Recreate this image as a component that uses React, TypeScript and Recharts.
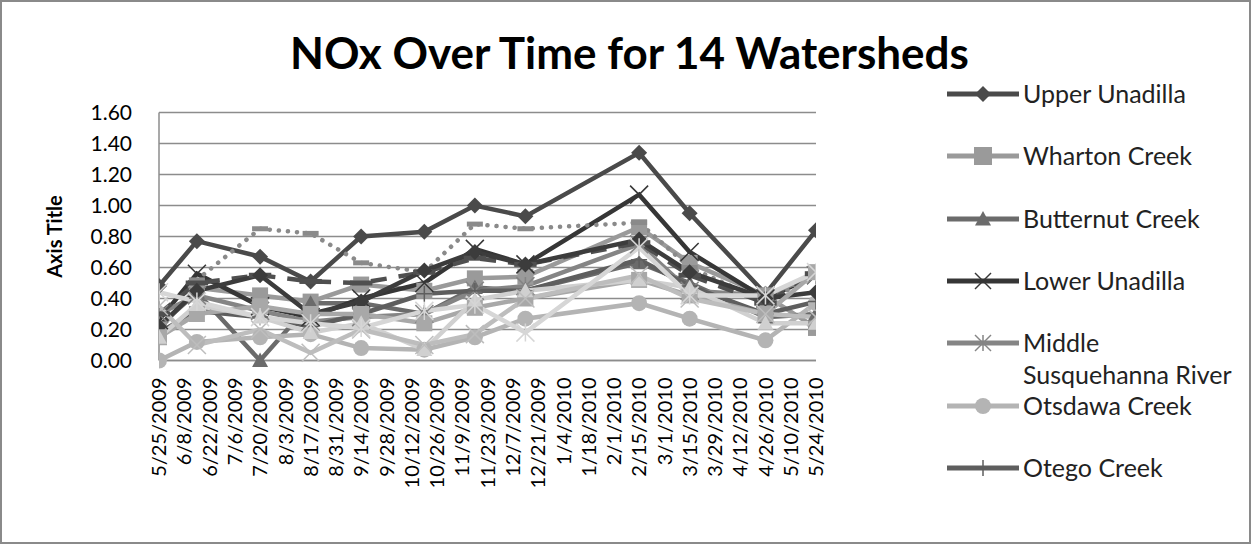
import React from 'react';
import { LineChart, Line, XAxis, YAxis, CartesianGrid } from 'recharts';

// sampling dates and tick labels (date axis, 14 day steps)
const sampleDates = [
  '5/25/2009', '6/15/2009', '7/20/2009', '8/17/2009', '9/14/2009', '10/19/2009',
  '11/16/2009', '12/14/2009', '2/15/2010', '3/15/2010', '4/26/2010', '5/24/2010',
];

const tickLabels = [
  '5/25/2009', '6/8/2009', '6/22/2009', '7/6/2009', '7/20/2009', '8/3/2009', '8/17/2009',
  '8/31/2009', '9/14/2009', '9/28/2009', '10/12/2009', '10/26/2009', '11/9/2009',
  '11/23/2009', '12/7/2009', '12/21/2009', '1/4/2010', '1/18/2010', '2/1/2010',
  '2/15/2010', '3/1/2010', '3/15/2010', '3/29/2010', '4/12/2010', '4/26/2010',
  '5/10/2010', '5/24/2010',
];

const yTicks = [0, 0.2, 0.4, 0.6, 0.8, 1.0, 1.2, 1.4, 1.6];

const upperUnadilla = [0.48, 0.77, 0.67, 0.51, 0.80, 0.83, 1.00, 0.93, 1.34, 0.95, 0.43, 0.84];
const whartonCreek = [0.20, 0.47, 0.42, 0.38, 0.49, 0.45, 0.53, 0.54, 0.86, 0.63, 0.42, 0.21];
const butternutCreek = [0.22, 0.44, 0.00, 0.37, 0.37, 0.30, 0.47, 0.45, 0.63, 0.50, 0.28, 0.30];
const lowerUnadilla = [0.26, 0.56, 0.35, 0.28, 0.40, 0.50, 0.72, 0.62, 1.07, 0.70, 0.40, 0.55];
const middleSusquehanna = [0.30, 0.42, 0.32, 0.25, 0.28, 0.30, 0.45, 0.48, 0.75, 0.45, 0.42, 0.55];
const otsdawaCreek = [0.00, 0.12, 0.15, 0.17, 0.08, 0.07, 0.15, 0.27, 0.37, 0.27, 0.13, 0.37];
const otegoCreek = [0.18, 0.32, 0.28, 0.22, 0.30, 0.43, 0.45, 0.45, 0.65, 0.48, 0.30, 0.38];
const watershed8 = [null, 0.52, 0.85, 0.82, 0.63, 0.57, 0.88, 0.85, 0.89, 0.60, 0.38, 0.55];
const watershed9 = [0.30, 0.50, 0.55, 0.51, 0.50, 0.57, 0.66, 0.62, 0.76, 0.55, 0.37, 0.56];
const watershed10 = [0.22, 0.45, 0.55, 0.30, 0.38, 0.58, 0.70, 0.62, 0.78, 0.57, 0.40, 0.44];
const watershed11 = [0.15, 0.30, 0.35, 0.30, 0.30, 0.24, 0.34, 0.40, 0.52, 0.42, 0.30, 0.57];
const watershed12 = [0.15, 0.36, 0.28, 0.18, 0.24, 0.07, 0.39, 0.45, 0.52, 0.47, 0.24, 0.24];
const watershed13 = [0.35, 0.10, 0.20, 0.05, 0.20, 0.10, 0.17, 0.40, 0.55, 0.40, 0.30, 0.28];
const watershed14 = [0.44, 0.38, 0.28, 0.24, 0.21, 0.32, 0.36, 0.18, 0.73, 0.42, 0.42, 0.57];

type Shape = 'diamond' | 'square' | 'triangle' | 'x' | 'star' | 'circle' | 'plus' | 'dash' | 'longdash';

interface SeriesDef {
  key: string;
  name: string;
  values: (number | null)[];
  color: string;
  shape: Shape;
  dash?: string;
  legend?: boolean;
}

const series: SeriesDef[] = [
  { key: 's1', name: 'Upper Unadilla', values: upperUnadilla, color: '#4a4a4a', shape: 'diamond', legend: true },
  { key: 's2', name: 'Wharton Creek', values: whartonCreek, color: '#9a9a9a', shape: 'square', legend: true },
  { key: 's3', name: 'Butternut Creek', values: butternutCreek, color: '#6b6b6b', shape: 'triangle', legend: true },
  { key: 's4', name: 'Lower Unadilla', values: lowerUnadilla, color: '#363636', shape: 'x', legend: true },
  { key: 's5', name: 'Middle Susquehanna River', values: middleSusquehanna, color: '#858585', shape: 'star', legend: true },
  { key: 's6', name: 'Otsdawa Creek', values: otsdawaCreek, color: '#b4b4b4', shape: 'circle', legend: true },
  { key: 's7', name: 'Otego Creek', values: otegoCreek, color: '#5e5e5e', shape: 'plus', legend: true },
  { key: 's8', name: 'Watershed 8', values: watershed8, color: '#8a8a8a', shape: 'dash', dash: '0.1 9' },
  { key: 's9', name: 'Watershed 9', values: watershed9, color: '#4f4f4f', shape: 'longdash', dash: '16 12' },
  { key: 's10', name: 'Watershed 10', values: watershed10, color: '#3c3c3c', shape: 'diamond' },
  { key: 's11', name: 'Watershed 11', values: watershed11, color: '#a8a8a8', shape: 'square' },
  { key: 's12', name: 'Watershed 12', values: watershed12, color: '#d0d0d0', shape: 'triangle' },
  { key: 's13', name: 'Watershed 13', values: watershed13, color: '#bdbdbd', shape: 'x' },
  { key: 's14', name: 'Watershed 14', values: watershed14, color: '#d6d6d6', shape: 'star' },
];

const START = Date.UTC(2009, 4, 25);
const dayOf = (label: string) => {
  const [m, d, y] = label.split('/').map(Number);
  return Math.round((Date.UTC(y, m - 1, d) - START) / 86400000);
};

const tickDays = tickLabels.map(dayOf);
const labelByDay: Record<number, string> = {};
tickLabels.forEach((l) => { labelByDay[dayOf(l)] = l; });

const data = sampleDates.map((d, i) => {
  const row: Record<string, number | null> = { day: dayOf(d) };
  series.forEach((s) => { row[s.key] = s.values[i]; });
  return row;
});

const FONT = 'Lato, "Open Sans", sans-serif';

const MarkerShape = ({ cx, cy, shape, color, size = 7 }: { cx: number; cy: number; shape: Shape; color: string; size?: number }) => {
  const r = size;
  switch (shape) {
    case 'diamond':
      return <polygon points={`${cx},${cy - r} ${cx + r},${cy} ${cx},${cy + r} ${cx - r},${cy}`} fill={color} />;
    case 'square':
      return <rect x={cx - r} y={cy - r} width={2 * r} height={2 * r} fill={color} />;
    case 'triangle':
      return <polygon points={`${cx},${cy - r} ${cx + r},${cy + r * 0.8} ${cx - r},${cy + r * 0.8}`} fill={color} />;
    case 'circle':
      return <circle cx={cx} cy={cy} r={r} fill={color} />;
    case 'x':
      return (
        <g stroke={color} strokeWidth={1.5}>
          <line x1={cx - r} y1={cy - r} x2={cx + r} y2={cy + r} />
          <line x1={cx - r} y1={cy + r} x2={cx + r} y2={cy - r} />
        </g>
      );
    case 'star':
      return (
        <g stroke={color} strokeWidth={1.5}>
          <line x1={cx - r} y1={cy - r} x2={cx + r} y2={cy + r} />
          <line x1={cx - r} y1={cy + r} x2={cx + r} y2={cy - r} />
          <line x1={cx} y1={cy - r} x2={cx} y2={cy + r} />
        </g>
      );
    case 'plus':
      return (
        <g stroke={color} strokeWidth={1.5}>
          <line x1={cx} y1={cy - r} x2={cx} y2={cy + r} />
          <line x1={cx - r} y1={cy} x2={cx + r} y2={cy} />
        </g>
      );
    case 'dash':
      return <rect x={cx - r} y={cy - 2.5} width={2 * r} height={5} fill={color} />;
    case 'longdash':
      return <rect x={cx - r * 1.4} y={cy - 2.5} width={2.8 * r} height={5} fill={color} />;
    default:
      return null;
  }
};

const makeDot = (s: SeriesDef) => (props: any) => {
  const { cx, cy, index } = props;
  if (cx == null || cy == null || props.value == null) return <g key={`${s.key}-${index}`} />;
  return (
    <g key={`${s.key}-${index}`}>
      <MarkerShape cx={cx} cy={cy} shape={s.shape} color={s.color} size={s.shape === 'x' || s.shape === 'star' ? 9 : 8} />
    </g>
  );
};

const DateTick = (props: any) => {
  const { x, y, payload } = props;
  return (
    <g transform={`translate(${x},${y})`}>
      <text transform="rotate(-90)" x={-9} y={0} dy="0.36em" textAnchor="end" fill="#000" fontSize={20} fontFamily={FONT}>
        {labelByDay[payload.value]}
      </text>
    </g>
  );
};

const LegendBox = () => (
  <div style={{ position: 'absolute', left: 945, top: 0 }}>
    {series.filter((s) => s.legend).map((s, i) => {
      const cy = 93 + i * 62.3;
      const parts = s.name === 'Middle Susquehanna River' ? ['Middle', 'Susquehanna River'] : [s.name];
      return (
        <div key={s.key} style={{ position: 'absolute', top: cy - 18, left: 0, width: 300 }}>
          <svg width={76} height={32} style={{ position: 'absolute', left: 0, top: 0 }}>
            <line x1={0} y1={17} x2={72} y2={17} stroke={s.color} strokeWidth={5} />
            <MarkerShape cx={36} cy={17} shape={s.shape} color={s.color} size={s.shape === 'square' ? 9 : 8} />
          </svg>
          <div style={{ position: 'absolute', left: 76, top: 0, fontFamily: FONT, fontSize: 25, lineHeight: '32px', color: '#222', whiteSpace: 'nowrap' }}>
            {parts.map((p) => <div key={p}>{p}</div>)}
          </div>
        </div>
      );
    })}
  </div>
);

export default function App() {
  return (
    <div style={{ position: 'absolute', left: 0, top: 0, width: 1251, height: 544, background: '#fff', boxSizing: 'border-box', border: '2px solid #8a8a8a', overflow: 'hidden' }}>
      <div style={{ position: 'absolute', left: 0, top: 0 }}>
        <LineChart width={1247} height={540} data={data} margin={{ top: 110.5, right: 433, left: 0, bottom: 0 }}>
          <CartesianGrid vertical={false} stroke="#8c8c8c" strokeWidth={1.5} />
          <XAxis
            type="number"
            dataKey="day"
            domain={[0, 364]}
            ticks={tickDays}
            interval={0}
            tick={<DateTick />}
            tickLine={false}
            axisLine={{ stroke: '#8c8c8c', strokeWidth: 1.5 }}
            height={181.5}
            allowDataOverflow
          />
          <YAxis
            domain={[0, 1.6]}
            ticks={yTicks}
            interval={0}
            width={157}
            tickFormatter={(v: number) => v.toFixed(2)}
            tickLine={false}
            tickMargin={21}
            axisLine={{ stroke: '#8c8c8c', strokeWidth: 1.5 }}
            tick={{ fill: '#000', fontSize: 21, fontFamily: FONT }}
            label={{ value: 'Axis Title', angle: -90, position: 'center', dx: -26, style: { fontFamily: FONT, fontSize: 20, fontWeight: 700, fill: '#000' } }}
          />
          {series.map((s) => (
            <Line
              key={s.key}
              dataKey={s.key}
              name={s.name}
              type="linear"
              stroke={s.color}
              strokeWidth={4.5}
              strokeDasharray={s.dash}
              strokeLinecap={s.dash === '0.1 9' ? 'round' : 'butt'}
              dot={makeDot(s)}
              activeDot={false}
              isAnimationActive={false}
            />
          ))}
        </LineChart>
      </div>
      <div style={{ position: 'absolute', left: 0, width: 1255, top: 24, textAlign: 'center', fontFamily: FONT, fontWeight: 700, fontSize: 44, color: '#000' }}>
        NOx Over Time for 14 Watersheds
      </div>
      <LegendBox />
    </div>
  );
}
